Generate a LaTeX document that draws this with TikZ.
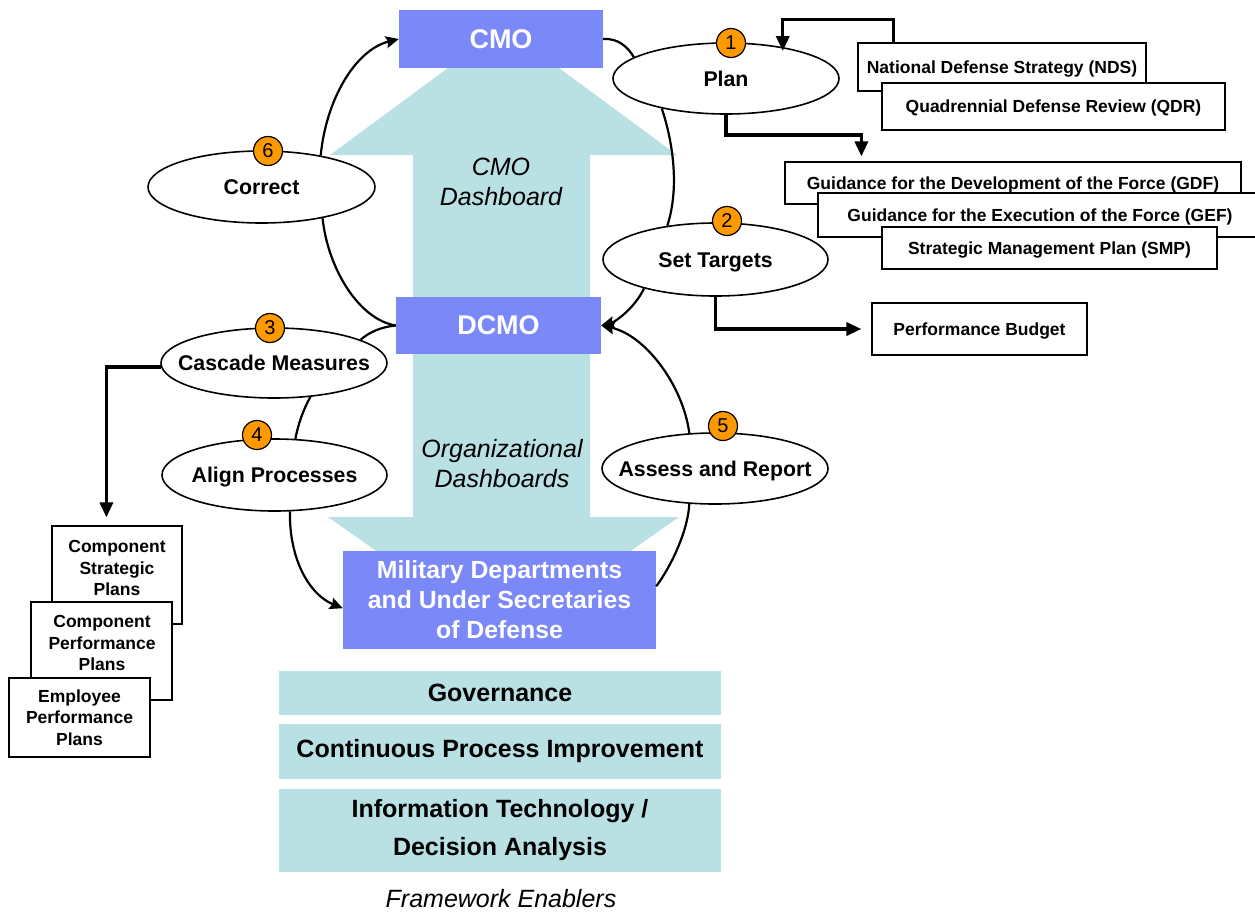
\documentclass[tikz,border=0pt]{standalone}
\usepackage{fontspec}
\setmainfont{Liberation Sans}
\usetikzlibrary{shapes.geometric,arrows.meta,calc}
\definecolor{boxblue}{RGB}{122,136,248}
\definecolor{tealbg}{RGB}{185,224,227}
\definecolor{badgeorange}{RGB}{255,153,0}
\begin{document}
\begin{tikzpicture}[x=1pt,y=-1pt,
  ell/.style={ellipse, draw, line width=1.6pt, fill=white, inner sep=0pt, text depth=0pt,
    font=\bfseries\fontsize{21.3}{25}\selectfont},
  badge/.style={circle, draw, fill=badgeorange, minimum size=29pt, inner sep=0pt,
    line width=1.2pt, font=\fontsize{20}{20}\selectfont},
  doc/.style={draw, fill=white, line width=1.2pt, inner sep=0pt,
    font=\bfseries\fontsize{17.5}{21.5}\selectfont},
  oneline/.style={text depth=0pt},
  doctext/.style={inner sep=0pt, align=center, font=\bfseries\fontsize{17.5}{21.5}\selectfont},
  bluebox/.style={fill=boxblue, text=white, inner sep=0pt, align=center},
  enab/.style={fill=tealbg, inner sep=0pt, align=center, minimum width=442pt,
    font=\bfseries\fontsize{25}{38}\selectfont},
  dashlabel/.style={inner sep=0pt, align=center, font=\itshape\fontsize{25}{30}\selectfont},
  conn/.style={line width=2.2pt},
  connarrow/.style={line width=2.2pt, -{Stealth[length=13pt,width=12pt,inset=2pt]}},
  elbow/.style={line width=3.4pt, -{Triangle[length=15pt,width=13pt]}}
]
\clip (0,0) rectangle (1255,911);

% big background arrows
\fill[tealbg] (413,300) -- (413,155) -- (330,155) -- (503.5,27) -- (677,155) -- (590,155) -- (590,300) -- cycle;
\fill[tealbg] (413,350) -- (413,517) -- (328,517) -- (503.5,640) -- (679,517) -- (590,517) -- (590,350) -- cycle;

% blue boxes
\node[bluebox, minimum width=204pt, minimum height=58pt, text depth=0pt, font=\bfseries\fontsize{27}{30}\selectfont] (cmo) at (501,39) {CMO};
\node[bluebox, minimum width=205pt, minimum height=57pt, text depth=0pt, font=\bfseries\fontsize{27}{30}\selectfont] (dcmo) at (498.5,325.5) {DCMO};
\node[bluebox, minimum width=313pt, minimum height=98pt, font=\bfseries\fontsize{24.8}{30}\selectfont] (mil) at (499.5,600) {Military Departments\\and Under Secretaries\\of Defense};

\node[dashlabel] (cmodash) at (501,182) {CMO\\Dashboard};
\node[dashlabel] (orgdash) at (502,464) {Organizational\\Dashboards};

% enablers
\node[enab, minimum height=44pt] (gov) at (500,693) {Governance};
\node[enab, minimum height=55pt] (cpi) at (500,751.5) {Continuous Process Improvement};
\node[enab, minimum height=83pt] (itda) at (500,830.5) {Information Technology /\\Decision Analysis};
\node[inner sep=0pt, font=\itshape\fontsize{25}{30}\selectfont] (fe) at (501,899) {Framework Enablers};

% document boxes right
\node[doc, oneline, minimum width=288pt, minimum height=48pt] (nds) at (1002,67) {National Defense Strategy (NDS)};
\node[doc, oneline, minimum width=343pt, minimum height=47pt] (qdr) at (1053.5,106.5) {Quadrennial Defense Review (QDR)};
\node[doc, oneline, minimum width=456pt, minimum height=42pt] (gdf) at (1013,183) {Guidance for the Development of the Force (GDF)};
\node[doc, oneline, minimum width=444pt, minimum height=44pt] (gef) at (1040,215) {Guidance for the Execution of the Force (GEF)};
\node[doc, oneline, minimum width=335pt, minimum height=42pt] (smp) at (1049.5,248) {Strategic Management Plan (SMP)};
\node[doc, oneline, minimum width=215pt, minimum height=52pt] (pb) at (979.5,329) {Performance Budget};

% document boxes left
\node[doc, minimum width=130pt, minimum height=98pt] (csp) at (117,575) {};
\node[doctext] (csptext) at (117,568) {Component\\Strategic\\Plans};
\node[doc, minimum width=141pt, minimum height=98pt] (cpp) at (101.5,651) {};
\node[doctext] (cpptext) at (102,643) {Component\\Performance\\Plans};
\node[doc, minimum width=141pt, minimum height=79pt, align=center] (epp) at (79.5,717.5) {Employee\\Performance\\Plans};

% ellipses
\node[ell, minimum width=226pt, minimum height=71pt] (plan) at (726,78.5) {\makebox[0pt]{Plan}};
\node[ell, minimum width=225pt, minimum height=73pt] (settargets) at (715.5,259.5) {\makebox[0pt]{\raisebox{-2pt}{Set Targets}}};
\node[ell, minimum width=226pt, minimum height=71pt] (assess) at (715,468.5) {\makebox[0pt]{Assess and Report}};
\node[ell, minimum width=225pt, minimum height=72pt] (align) at (274.5,475) {\makebox[0pt]{Align Processes}};
\node[ell, minimum width=226pt, minimum height=70pt] (cascade) at (274,363) {\makebox[0pt]{Cascade Measures}};
\node[ell, minimum width=227pt, minimum height=72pt] (correct) at (261.5,187) {\makebox[0pt]{Correct}};

% badges
\node[badge] (b1) at (731,43) {1};
\node[badge] (b2) at (727,221) {2};
\node[badge] (b3) at (270,328) {3};
\node[badge] (b4) at (257,435) {4};
\node[badge] (b5) at (723,426) {5};
\node[badge] (b6) at (268,151) {6};

% curved connectors of the cycle
\draw[conn] (cmo.east) .. controls (618,38) and (628,47) .. (plan.167);
\draw[conn] (plan.205) .. controls (674,145) and (679,190) .. (settargets.145);
\draw[connarrow] (settargets.202) .. controls (635,308) and (615,322) .. (dcmo.east);
\draw[connarrow] (assess.126) .. controls (683,385) and (645,335) .. (dcmo.east);
\draw[conn] (mil.5) .. controls (672,565) and (688,530) .. (assess.234);
\draw[connarrow] (align.293) .. controls (289,560) and (310,595) .. (mil.183);
\draw[conn] (cascade.317) .. controls (303,410) and (298,425) .. (align.60);
\draw[conn] (dcmo.west) .. controls (380,327) and (368,333) .. (cascade.15);
\draw[conn] (correct.333) .. controls (328,270) and (360,320) .. (dcmo.west);
\draw[connarrow] (correct.28) .. controls (326,100) and (355,50) .. (cmo.west);

% elbow connectors
\draw[elbow, shorten >=-4pt] ($(nds.north west)+(36,0)$) -- ++(0,-23) -| (plan.29);
\draw[elbow, shorten >=5pt] (plan.south) -- ++(0,20) -| ($(gdf.north west)+(77,0)$);
\draw[elbow, shorten >=10pt] (settargets.south) |- (pb.west);
\draw[elbow, shorten >=8pt] (cascade.182) -| ($(csp.north west)+(55,0)$);
\end{tikzpicture}
\end{document}
